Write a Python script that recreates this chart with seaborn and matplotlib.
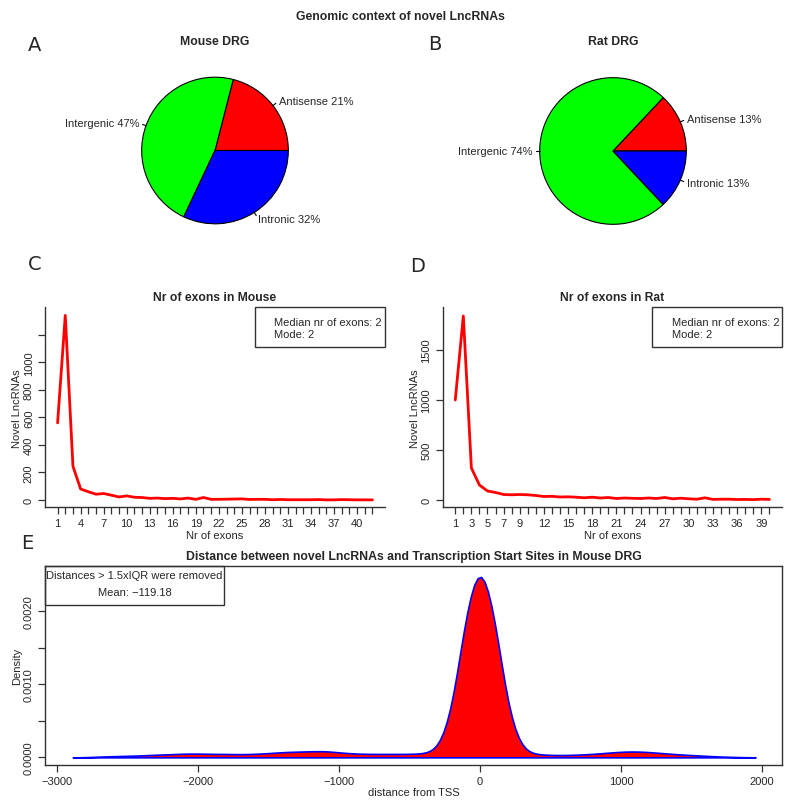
import numpy as np
import pandas as pd
import matplotlib
matplotlib.use('Agg')
import matplotlib.pyplot as plt
from matplotlib.patches import Rectangle
import seaborn as sns

sns.set_style('ticks')
plt.rcParams['font.family'] = ['Liberation Sans', 'DejaVu Sans']

# ---------------------- data ----------------------
pie_labels = ['Antisense', 'Intergenic', 'Intronic']
pie_colors = ['#ff0000', '#00ff00', '#0000ff']
mouse_pct = [21, 47, 32]
rat_pct = [13, 74, 13]

mouse_exons = list(range(1, 43))
mouse_counts = [560, 1340, 245, 80, 60, 42, 47, 35, 22, 30, 20, 18, 12, 14,
                10, 12, 8, 14, 5, 18, 5, 5, 6, 7, 8, 4, 5, 5, 2, 4, 2, 2,
                2, 2, 3, 1, 1, 3, 2, 1, 1, 1]
mouse_xticks = list(range(1, 41, 3))

rat_exons = list(range(1, 41))
rat_counts = [1000, 1840, 320, 150, 90, 75, 55, 52, 55, 52, 45, 35, 37, 30,
              32, 28, 22, 28, 20, 25, 15, 20, 17, 15, 20, 15, 25, 12, 18, 12,
              8, 22, 6, 8, 8, 5, 6, 4, 8, 6]
rat_xticks = [1, 3, 5, 7, 9, 12, 15, 18, 21, 24, 27, 30, 33, 36, 39]

# distances to TSS, binned per 100 bp (estimated counts)
dist_bins = list(range(-2700, 1900, 100))
dist_counts = [2, 3, 4, 5, 7, 8, 10, 10, 9, 9, 8, 9, 11, 14, 15, 16, 17, 13,
               10, 9, 9, 9, 9, 10, 17, 108, 396, 546, 396, 108, 15, 8, 6, 6,
               7, 9, 12, 15, 16, 14, 11, 8, 6, 4, 2, 1]

FS = 8

fig = plt.figure(figsize=(8, 8.12), dpi=100)

def fx(px):
    return px / 800

def fy(py):
    return 1 - py / 812

fig.text(fx(400), fy(17), 'Genomic context of novel LncRNAs', ha='center', va='center',
         fontsize=8.8, fontweight='bold')

# ---------------------- pies ----------------------
def draw_pie(cx, cy, pct, title):
    ax = fig.add_axes([fx(cx - 100), fy(cy + 100), fx(200), 200 / 812])
    labels = [f'{l} {p}%' for l, p in zip(pie_labels, pct)]
    wedges, texts = ax.pie(pct, colors=pie_colors, startangle=0, counterclock=True,
                           labels=labels, labeldistance=1.1,
                           wedgeprops=dict(edgecolor='black', linewidth=0.8),
                           textprops=dict(fontsize=FS))
    for w in wedges:
        a = np.deg2rad((w.theta1 + w.theta2) / 2)
        ax.plot([np.cos(a), 1.05 * np.cos(a)], [np.sin(a), 1.05 * np.sin(a)],
                color='black', lw=0.8, clip_on=False)
    for t in texts:
        t.set_va('center')
    ax.set_xlim(-1.364, 1.364)
    ax.set_ylim(-1.364, 1.364)
    ax.set_aspect('equal')
    ax.axis('off')
    fig.text(fx(cx), fy(42), title, ha='center', va='center', fontsize=8.8, fontweight='bold')

draw_pie(215, 151.5, mouse_pct, 'Mouse DRG')
draw_pie(613, 152, rat_pct, 'Rat DRG')

# ---------------------- exon line plots ----------------------
def style_axis(ax):
    for s in ax.spines.values():
        s.set_linewidth(1.0)
        s.set_color('#333333')
    ax.tick_params(direction='out', length=5, width=0.9, labelsize=FS, color='#333333', pad=3)

def exon_panel(rect, x, y, xticks, yticks, ylabels, ylim, xlim, title):
    ax = fig.add_axes(rect)
    sns.lineplot(x=x, y=y, ax=ax, color='red', lw=2)
    ax.set_xlim(*xlim)
    ax.set_ylim(*ylim)
    ax.set_xticks(x)
    ax.set_xticklabels([str(v) if v in xticks else '' for v in x])
    ax.set_yticks(yticks)
    ax.set_yticklabels(ylabels, rotation=90, va='center')
    ax.spines['top'].set_visible(False)
    ax.spines['right'].set_visible(False)
    style_axis(ax)
    ax.set_xlabel('Nr of exons', fontsize=FS, labelpad=1)
    ax.set_ylabel('Novel LncRNAs', fontsize=FS, labelpad=1)
    ax.text(0.5, 1.05, title, transform=ax.transAxes, ha='center', va='center',
            fontsize=8.7, fontweight='bold')
    ax.add_patch(Rectangle((0.618, 0.8), 0.382, 0.2, transform=ax.transAxes, fill=False,
                           edgecolor='#333333', lw=1.0, clip_on=False))
    ax.text(0.675, 0.925, 'Median nr of exons: 2', transform=ax.transAxes, fontsize=FS, va='center')
    ax.text(0.675, 0.865, 'Mode: 2', transform=ax.transAxes, fontsize=FS, va='center')
    return ax

exon_panel([fx(45), fy(508.3), 340 / 800, 200 / 812], mouse_exons, mouse_counts, mouse_xticks,
           [0, 200, 400, 600, 800, 1000, 1200], ['0', '200', '400', '600', '800', '1000', ''],
           (-53, 1399), (-0.64, 43.64), 'Nr of exons in Mouse')
exon_panel([fx(442.7), fy(508.3), 339.3 / 800, 200 / 812], rat_exons, rat_counts, rat_xticks,
           [0, 500, 1000, 1500], ['0', '500', '1000', '1500'],
           (-73, 1927), (-0.56, 41.56), 'Nr of exons in Rat')

# ---------------------- distance density ----------------------
axE = fig.add_axes([fx(45), fy(765.7), 737 / 800, 199 / 812])
dist_df = pd.DataFrame({'distance': dist_bins, 'n': dist_counts})
sns.kdeplot(data=dist_df, x='distance', weights='n', bw_method=0.106, cut=3,
            clip=(-2890, 1955), fill=True, facecolor='red', edgecolor='blue',
            linewidth=1.2, alpha=1, ax=axE)
axE.set_xlim(-3087, 2143)
axE.set_ylim(-0.000101, 0.002626)
axE.set_xticks([-3000, -2000, -1000, 0, 1000, 2000])
axE.set_xticklabels(['\u22123000', '\u22122000', '\u22121000', '0', '1000', '2000'])
axE.set_yticks([0, 0.0005, 0.001, 0.0015, 0.002])
axE.set_yticklabels(['0.0000', '', '0.0010', '', '0.0020'], rotation=90, va='center')
style_axis(axE)
axE.set_xlabel('distance from TSS', fontsize=FS, labelpad=1)
axE.set_ylabel('Density', fontsize=FS, labelpad=1)
axE.text(0.5, 1.05, 'Distance between novel LncRNAs and Transcription Start Sites in Mouse DRG',
         transform=axE.transAxes, ha='center', va='center', fontsize=8.8, fontweight='bold')
axE.add_patch(Rectangle((0, 0.804), 0.2429, 0.196, transform=axE.transAxes, fill=False,
                        edgecolor='#333333', lw=1.0, clip_on=False))
axE.text(0.1214, 0.953, 'Distances > 1.5xIQR were removed', transform=axE.transAxes,
         ha='center', va='center', fontsize=FS)
axE.text(0.1214, 0.869, 'Mean: \u2212119.18', transform=axE.transAxes,
         ha='center', va='center', fontsize=FS)

# panel letters
for letter, x, y in [('A', 35, 45.5), ('B', 435, 44.5), ('C', 35, 264), ('D', 418, 267), ('E', 27, 544)]:
    fig.text(fx(x), fy(y), letter, ha='center', va='center', fontsize=14, family='DejaVu Sans')

fig.savefig('out.png', dpi=100)
